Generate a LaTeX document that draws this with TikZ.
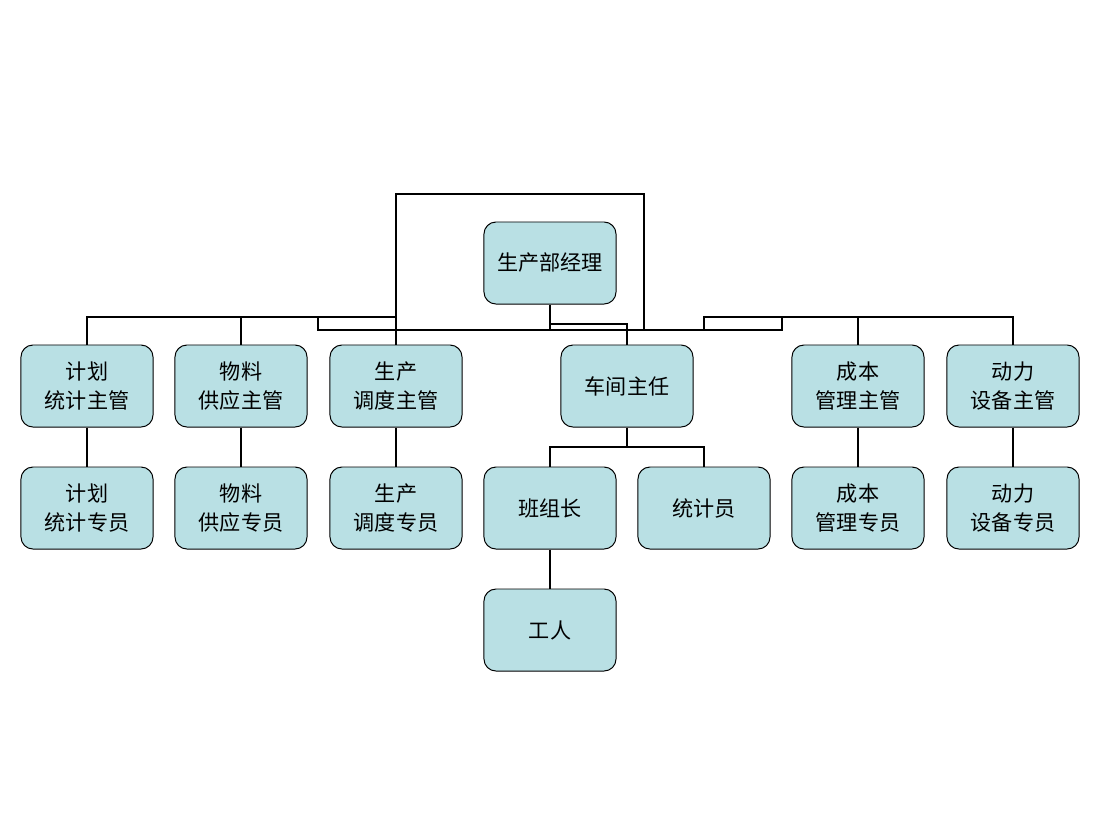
\documentclass[tikz,border=0pt]{standalone}
\usepackage{fontspec}
\setmainfont{Noto Sans CJK SC}
\definecolor{boxfill}{RGB}{185,224,228}
\tikzset{
  post/.style={draw=black, fill=boxfill, rounded corners=0.3cm, line width=0.7pt,
    minimum width=3.3cm, minimum height=2.05cm, align=center,
    font=\fontsize{15}{20}\selectfont},
  link/.style={line width=2.1pt}
}
\begin{document}
\begin{tikzpicture}[x=0.025cm, y=-0.025cm, line join=miter]
\useasboundingbox (0,0) rectangle (1100,825);

% top
\node[post] (mgr) at (550,263) {生产部经理};

% first level
\node[post] (plan) at (87,386) {计划\\统计主管};
\node[post] (supply) at (241,386) {物料\\供应主管};
\node[post] (sched) at (396,386) {生产\\调度主管};
\node[post] (shop) at (627,386) {车间主任};
\node[post] (cost) at (858,386) {成本\\管理主管};
\node[post] (power) at (1013,386) {动力\\设备主管};

% second level
\node[post] (plans) at (87,508) {计划\\统计专员};
\node[post] (supplys) at (241,508) {物料\\供应专员};
\node[post] (scheds) at (396,508) {生产\\调度专员};
\node[post] (team) at (550,508) {班组长};
\node[post] (stat) at (704,508) {统计员};
\node[post] (costs) at (858,508) {成本\\管理专员};
\node[post] (powers) at (1013,508) {动力\\设备专员};

% third level
\node[post] (worker) at (550,630) {工人};

% connectors
\begin{scope}[link]
\draw (sched.north) -- (396,194) -- (644,194) -- (644,330) -- (318,330) -- (318,317) -- (396,317);
\draw (396,317) -- (87,317) -- (plan.north);
\draw (241,317) -- (supply.north);
\draw (644,330) -- (782,330) -- (782,317) -- (704,317) -- (704,330);
\draw (782,317) -- (1013,317) -- (power.north);
\draw (858,317) -- (cost.north);
\draw (mgr.south) -- (550,330);
\draw (550,324) -- (627,324) -- (shop.north);
\draw (shop.south) -- (627,447) -- (550,447) -- (team.north);
\draw (627,447) -- (704,447) -- (stat.north);
\draw (plan) -- (plans);
\draw (supply) -- (supplys);
\draw (sched) -- (scheds);
\draw (cost) -- (costs);
\draw (power) -- (powers);
\draw (team) -- (worker);
\end{scope}
\end{tikzpicture}
\end{document}
